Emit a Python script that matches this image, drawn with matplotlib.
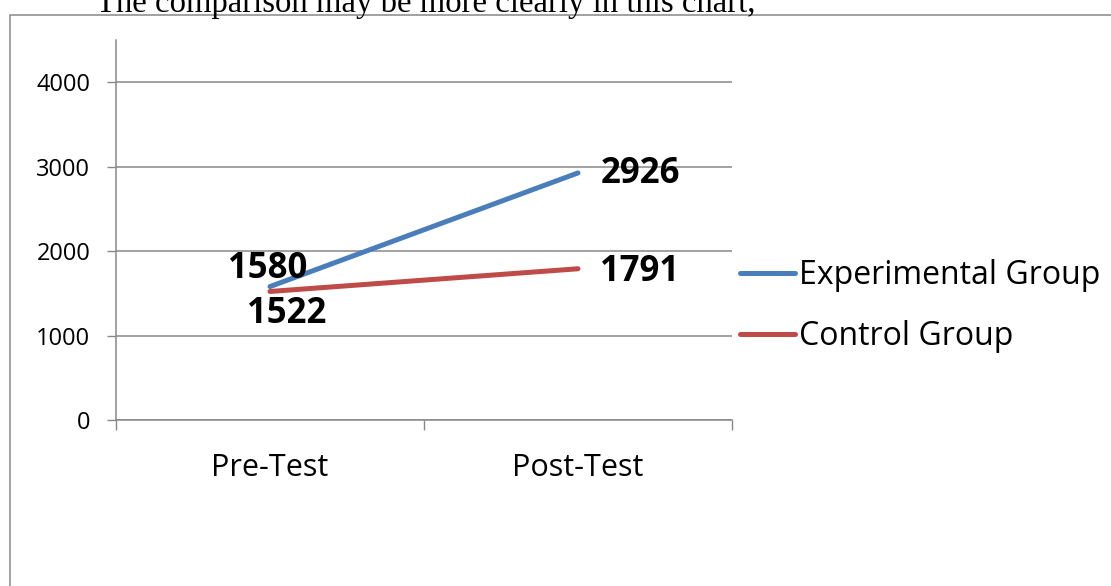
import matplotlib.pyplot as plt
from matplotlib.patches import Rectangle

categories = ['Pre-Test', 'Post-Test']
experimental = [1580, 2926]
control = [1522, 1791]
yticks = [0, 1000, 2000, 3000, 4000]

blue = '#4A7EBB'
red = '#BE4B48'
grey = '#888888'

plt.rcParams['font.family'] = ['Open Sans', 'DejaVu Sans']

fig = plt.figure(figsize=(11.11, 5.86), dpi=100)
ax = fig.add_axes([116/1111, 1-420/586, (732-116)/1111, (420-40)/586])

x = list(range(len(categories)))
ax.plot(x, experimental, color=blue, lw=3.6, solid_capstyle='round', label='Experimental Group')
ax.plot(x, control, color=red, lw=3.6, solid_capstyle='round', label='Control Group')

ax.set_xlim(-0.5, 1.5)
ax.set_ylim(0, 4500)
ax.set_yticks(yticks)
ax.set_yticklabels([str(v) for v in yticks])
ax.set_xticks(x)
ax.set_xticklabels(categories, fontsize=22)
ax.set_xticks([-0.5, 0.5, 1.5], minor=True)
ax.tick_params(axis='x', which='major', length=0, pad=24)
ax.tick_params(axis='x', which='minor', length=7, width=1, color=grey, direction='out')
ax.tick_params(axis='y', length=6.5, width=1, color=grey, labelsize=17, pad=12)
ax.yaxis.grid(True, color=grey, lw=1.1)
ax.set_axisbelow(True)
for s in ['top', 'right']:
    ax.spines[s].set_visible(False)
for s in ['left', 'bottom']:
    ax.spines[s].set_color(grey)
    ax.spines[s].set_linewidth(1.1)

# data labels
lab = dict(textcoords='offset points', va='center', fontsize=25, fontweight='bold')
ax.annotate(str(experimental[0]), (0, experimental[0]), xytext=(-2, 13), ha='center', **lab)
ax.annotate(str(control[0]), (0, control[0]), xytext=(12, -16), ha='center', **lab)
ax.annotate(str(experimental[1]), (1, experimental[1]), xytext=(16, -1), ha='left', **lab)
ax.annotate(str(control[1]), (1, control[1]), xytext=(16, -2), ha='left', **lab)

fig.legend(loc='center left', bbox_to_anchor=(740/1111, 1-306/586), frameon=False,
           borderpad=0, borderaxespad=0,
           fontsize=23, handlelength=1.72, handletextpad=0.12, labelspacing=0.86)

# outer chart border (cut off at right and bottom)
fig.patches.append(Rectangle((10/1111, -0.1), 1.2, 1-15/586+0.1, transform=fig.transFigure,
                             fill=False, edgecolor=grey, lw=1.1))

fig.text(96/1111, 1-12/586, 'The comparison may be more clearly in this chart,',
         family='Liberation Serif', fontsize=23.6, ha='left', va='baseline')

fig.savefig('out.png', dpi=100)
